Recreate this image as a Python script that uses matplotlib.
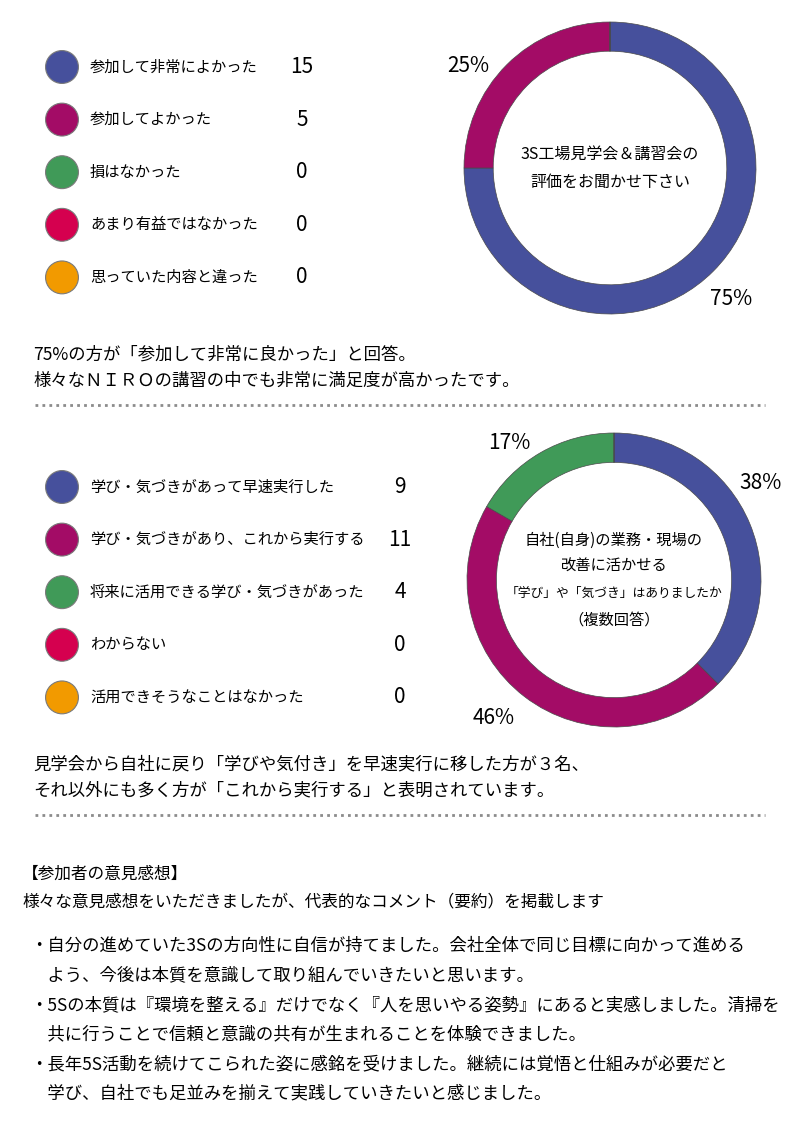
import matplotlib
matplotlib.use('Agg')
import matplotlib.pyplot as plt

plt.rcParams['font.family'] = ['Noto Sans CJK JP', 'DejaVu Sans']

# データ
q1_labels = ['参加して非常によかった', '参加してよかった', '損はなかった',
             'あまり有益ではなかった', '思っていた内容と違った']
q1_values = [15, 5, 0, 0, 0]
q1_title = ['3S工場見学会＆講習会の', '評価をお聞かせ下さい']

q2_labels = ['学び・気づきがあって早速実行した', '学び・気づきがあり、これから実行する',
             '将来に活用できる学び・気づきがあった', 'わからない', '活用できそうなことはなかった']
q2_values = [9, 11, 4, 0, 0]
q2_title = ['自社(自身)の業務・現場の', '改善に活かせる',
            '「学び」や「気づき」はありましたか', '（複数回答）']

colors = ['#46509C', '#A30C66', '#409A58', '#D5004F', '#F29A00']

note1 = ['75%の方が「参加して非常に良かった」と回答。',
         '様々なＮＩＲＯの講習の中でも非常に満足度が高かったです。']
note2 = ['見学会から自社に戻り「学びや気付き」を早速実行に移した方が３名、',
         'それ以外にも多く方が「これから実行する」と表明されています。']
comment_head = ['【参加者の意見感想】',
                '様々な意見感想をいただきましたが、代表的なコメント（要約）を掲載します']
comments = ['・自分の進めていた3Sの方向性に自信が持てました。会社全体で同じ目標に向かって進める',
            '　よう、今後は本質を意識して取り組んでいきたいと思います。',
            '・5Sの本質は『環境を整える』だけでなく『人を思いやる姿勢』にあると実感しました。清掃を',
            '　共に行うことで信頼と意識の共有が生まれることを体験できました。',
            '・長年5S活動を続けてこられた姿に感銘を受けました。継続には覚悟と仕組みが必要だと',
            '　学び、自社でも足並みを揃えて実践していきたいと感じました。']

# ラベル位置 (ドーナツ半径=1 の座標)
q1_pct_pos = [(0.83, -0.90), (-0.97, 0.70)]
q2_pct_pos = [(1.0, 0.66), (-0.82, -0.94), (-0.71, 0.93)]

W, H = 800, 1127
fig = plt.figure(figsize=(W / 100, H / 100), dpi=100)
bg = fig.add_axes([0, 0, 1, 1])
bg.set_xlim(0, W)
bg.set_ylim(H, 0)
bg.axis('off')


def legend_block(labels, values, y0, num_x):
    ys = [y0 + i * 52.6 for i in range(len(labels))]
    bg.scatter([62] * len(ys), ys, s=560, c=colors, edgecolors='#7a7a7a', linewidths=0.8, zorder=3)
    for y, lab, v in zip(ys, labels, values):
        bg.text(90, y, lab, fontsize=11, va='center', ha='left')
        bg.text(num_x, y, str(v), fontsize=15, va='center', ha='center')


def donut(values, cx, cy, r, title, title_sizes, title_step, pct_pos):
    ax = fig.add_axes([(cx - r) / W, 1 - (cy + r) / H, 2 * r / W, 2 * r / H])
    wedges, texts, autotexts = ax.pie(
        values, colors=colors, startangle=90, counterclock=False,
        wedgeprops=dict(width=0.2, edgecolor='#4a4a4a', linewidth=0.5),
        autopct=lambda p: f'{p:.0f}%' if p > 0 else '', pctdistance=1.2,
        textprops=dict(fontsize=15))
    ax.set_xlim(-1, 1)
    ax.set_ylim(-1, 1)
    shown = [t for t in autotexts if t.get_text()]
    for t, pos in zip(shown, pct_pos):
        t.set_position(pos)
    n = len(title)
    for i, (line, fs) in enumerate(zip(title, title_sizes)):
        yy = ((n - 1) / 2 - i) * title_step / r
        ax.text(0, yy, line, ha='center', va='center', fontsize=fs)
    return ax


legend_block(q1_labels, q1_values, 67, 302)
donut(q1_values, 610, 168, 146, q1_title, [11.5, 11.5], 28, q1_pct_pos)

for i, line in enumerate(note1):
    bg.text(33, 355 + i * 26, line, fontsize=12.5, va='center', ha='left')
bg.plot([35, 765], [405, 405], color='#8c8c8c', lw=2, linestyle=(0, (1, 1.5)))

legend_block(q2_labels, q2_values, 487, 400)
donut(q2_values, 614, 580, 147, q2_title, [11, 11, 9.2, 11], 26.7, q2_pct_pos)

for i, line in enumerate(note2):
    bg.text(33, 764 + i * 26, line, fontsize=12.5, va='center', ha='left')
bg.plot([35, 765], [815, 815], color='#8c8c8c', lw=2, linestyle=(0, (1, 1.5)))

bg.text(22, 874, comment_head[0], fontsize=12, va='center', ha='left')
bg.text(22, 903, comment_head[1], fontsize=12, va='center', ha='left')
for i, line in enumerate(comments):
    bg.text(30, 946 + i * 29.5, line, fontsize=12.5, va='center', ha='left')

fig.savefig('out.png', dpi=100)
